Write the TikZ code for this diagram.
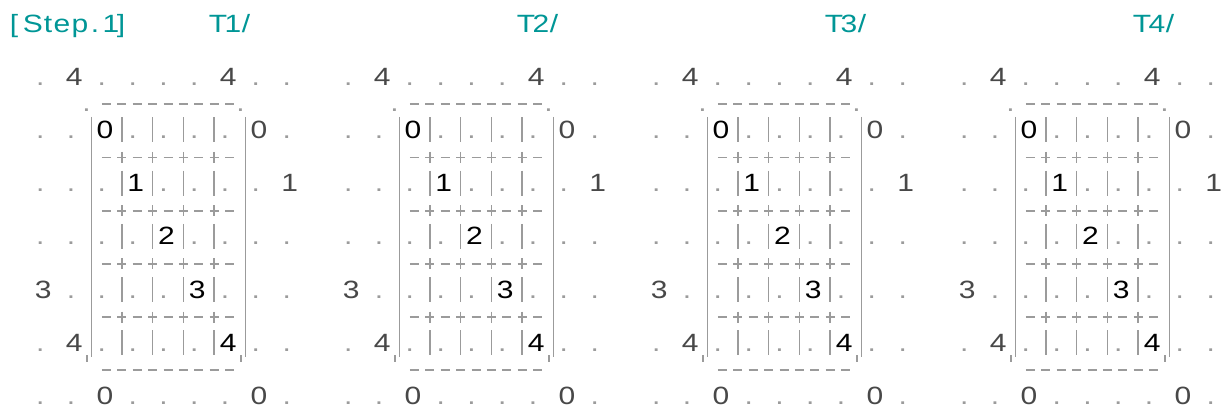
\documentclass[tikz,border=0pt]{standalone}
\usepackage{fontspec}
\setmainfont{Liberation Sans}[FakeStretch=1.2]
\definecolor{stepteal}{RGB}{0,150,150}
\definecolor{gridgray}{RGB}{155,155,155}
\definecolor{labelgray}{RGB}{72,72,72}

\begin{document}
\begin{tikzpicture}[
  x=1pt, y=-1pt,
  every node/.style={font=\fontsize{25}{29}\selectfont, inner sep=0pt, anchor=base},
  titlech/.style={text=stepteal},
  dotmark/.style={text=gridgray, xshift=-3pt},
  outlbl/.style={text=labelgray},
  inlbl/.style={text=black},
  gridline/.style={draw=gridgray, line width=1.6pt},
  dashrow/.style={gridline, dash pattern=on 9pt off 6.4pt}
]
  \useasboundingbox (0,0) rectangle (1226,409);

  % step caption
  \foreach \ch/\xx [count=\ix] in {{[}/14, S/33, t/48, e/62, p/80, ./95, 1/111, {]}/121}
    \node[titlech] (step\ix) at (\xx, 33) {\ch};

  \foreach \p in {0,...,3}{
    \pgfmathsetmacro{\ox}{12.5+308*\p}
    \pgfmathtruncatemacro{\pn}{\p+1}
    \foreach \ch/\xx [count=\ix] in {T/218, \pn/233, {/}/246}
      \node[titlech] (tab\pn-\ix) at ({\xx+308*\p}, 33) {\ch};

    % labels above the box
    \foreach \cc in {2,6,8,10,12,16,18}
      \node[dotmark] (up\pn-\cc) at ({\ox+15.4*\cc}, 85.2) {.};
    \foreach \cc in {4,14}
      \node[outlbl] (upn\pn-\cc) at ({\ox+15.4*\cc}, 85.2) {4};

    % box outline
    \node[dotmark] (cnw\pn) at ({\ox+15.4*5}, 111.8) {.};
    \node[dotmark] (cne\pn) at ({\ox+15.4*15}, 111.8) {.};
    \draw[dashrow] ({\ox+15.4*6-3}, 103.8) -- ({\ox+15.4*14+6}, 103.8);
    \draw[dashrow] ({\ox+15.4*6-3}, 369.8) -- ({\ox+15.4*14+6}, 369.8);
    \draw[gridline] ({\ox+15.4*5+2}, 117) -- ({\ox+15.4*5+2}, 357);
    \draw[gridline] ({\ox+15.4*15+2}, 117) -- ({\ox+15.4*15+2}, 357);
    \draw[gridline] ({\ox+15.4*5-2.5}, 355) -- ++(0,7);
    \draw[gridline] ({\ox+15.4*15-2.5}, 355) -- ++(0,7);

    % rows of the table
    \foreach \rw in {0,...,4}{
      \pgfmathsetmacro{\yc}{129.4+53.2*\rw}
      \foreach \kc in {0,...,4}{
        \ifnum\kc=\rw
          \node[inlbl] (cell\pn-\rw-\kc) at ({\ox+15.4*(6+2*\kc)}, {\yc+9}) {\rw};
        \else
          \node[dotmark] (cell\pn-\rw-\kc) at ({\ox+15.4*(6+2*\kc)}, {\yc+9}) {.};
        \fi
      }
      \foreach \cc in {7,9,11,13}
        \draw[gridline] ({\ox+15.4*\cc+1.5}, {\yc-12}) -- ({\ox+15.4*\cc+1.5}, {\yc+13});
    }
    \foreach \s in {0,...,3}{
      \pgfmathsetmacro{\yc}{156+53.2*\s}
      \draw[dashrow] ({\ox+15.4*6-3}, {\yc+1.5}) -- ({\ox+15.4*14+6}, {\yc+1.5});
      \foreach \cc in {7,9,11,13}
        \draw[gridline] ({\ox+15.4*\cc+1.5}, {\yc-4}) -- ++(0,11);
    }

    % side labels
    \foreach \rw in {0,1,2,4}
      \node[dotmark] (lf\pn-\rw) at ({\ox+15.4*2}, {138.4+53.2*\rw}) {.};
    \node[outlbl] (lfn\pn) at ({\ox+15.4*2}, {138.4+53.2*3}) {3};
    \foreach \rw in {0,...,3}
      \node[dotmark] (li\pn-\rw) at ({\ox+15.4*4}, {138.4+53.2*\rw}) {.};
    \node[outlbl] (lin\pn) at ({\ox+15.4*4}, {138.4+53.2*4}) {4};
    \foreach \rw in {1,...,4}
      \node[dotmark] (ri\pn-\rw) at ({\ox+15.4*16}, {138.4+53.2*\rw}) {.};
    \node[outlbl] (rin\pn) at ({\ox+15.4*16}, 138.4) {0};
    \foreach \rw in {0,2,3,4}
      \node[dotmark] (rf\pn-\rw) at ({\ox+15.4*18}, {138.4+53.2*\rw}) {.};
    \node[outlbl] (rfn\pn) at ({\ox+15.4*18}, {138.4+53.2}) {1};

    % labels below the box
    \foreach \cc in {2,4,8,10,12,14,18}
      \node[dotmark] (dn\pn-\cc) at ({\ox+15.4*\cc}, 404.4) {.};
    \foreach \cc in {6,16}
      \node[outlbl] (dnn\pn-\cc) at ({\ox+15.4*\cc}, 404.4) {0};
  }
\end{tikzpicture}
\end{document}
